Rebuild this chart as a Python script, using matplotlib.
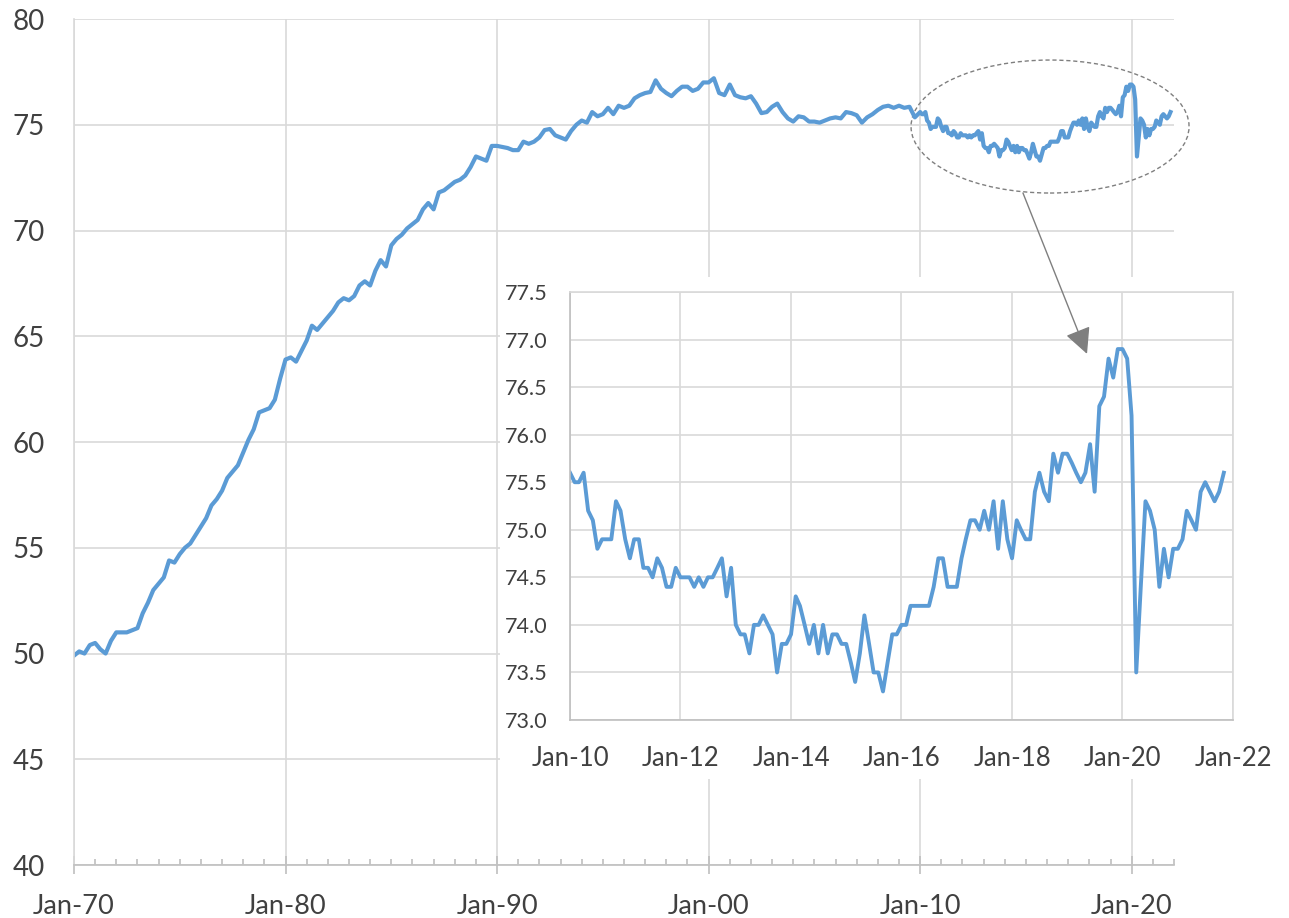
import pandas as pd
import matplotlib
matplotlib.use('Agg')
import matplotlib.pyplot as plt
import matplotlib.dates as mdates
from matplotlib.patches import Ellipse, Rectangle, FancyArrowPatch
from matplotlib.ticker import MultipleLocator, FormatStrFormatter

plt.rcParams['font.family'] = ['Lato', 'DejaVu Sans']

# Quarterly readings 1970-2009 (main chart)
main_start = '1970-01-01'
main_vals = [
    49.9, 50.1, 50.0, 50.4,
    50.5, 50.2, 50.0, 50.6,
    51.0, 51.0, 51.0, 51.1,
    51.2, 51.9, 52.4, 53.0,
    53.3, 53.6, 54.4, 54.3,
    54.7, 55.0, 55.2, 55.6,
    56.0, 56.4, 57.0, 57.3,
    57.7, 58.3, 58.6, 58.9,
    59.5, 60.1, 60.6, 61.4,
    61.5, 61.6, 62.0, 63.0,
    63.9, 64.0, 63.8, 64.3,
    64.8, 65.5, 65.3, 65.6,
    65.9, 66.2, 66.6, 66.8,
    66.7, 66.9, 67.4, 67.6,
    67.4, 68.1, 68.6, 68.3,
    69.3, 69.6, 69.8, 70.1,
    70.3, 70.5, 71.0, 71.3,
    71.0, 71.8, 71.9, 72.1,
    72.3, 72.4, 72.6, 73.0,
    73.5, 73.4, 73.3, 74.0,
    74.0, 73.95, 73.9, 73.8,
    73.8, 74.2, 74.1, 74.2,
    74.4, 74.75, 74.8, 74.5,
    74.4, 74.3, 74.7, 75.0,
    75.2, 75.1, 75.6, 75.4,
    75.5, 75.8, 75.5, 75.9,
    75.8, 75.9, 76.25, 76.4,
    76.5, 76.55, 77.1, 76.7,
    76.5, 76.35, 76.6, 76.8,
    76.8, 76.6, 76.7, 77.0,
    77.0, 77.2, 76.5, 76.4,
    76.9, 76.4, 76.3, 76.25,
    76.35, 76.0, 75.55, 75.6,
    75.85, 76.0, 75.6, 75.3,
    75.15, 75.4, 75.35, 75.15,
    75.15, 75.1, 75.2, 75.3,
    75.35, 75.3, 75.6, 75.55,
    75.45, 75.1, 75.35, 75.5,
    75.7, 75.85, 75.9, 75.8,
    75.9, 75.8, 75.85, 75.35,
]

# Monthly readings Jan 2010 - Nov 2021 (inset, also tail of main chart)
inset_start = '2010-01-01'
inset_vals = [
    75.6, 75.5, 75.5, 75.6, 75.2, 75.1, 74.8, 74.9, 74.9, 74.9, 75.3, 75.2,
    74.9, 74.7, 74.9, 74.9, 74.6, 74.6, 74.5, 74.7, 74.6, 74.4, 74.4, 74.6,
    74.5, 74.5, 74.5, 74.4, 74.5, 74.4, 74.5, 74.5, 74.6, 74.7, 74.3, 74.6,
    74.0, 73.9, 73.9, 73.7, 74.0, 74.0, 74.1, 74.0, 73.9, 73.5, 73.8, 73.8,
    73.9, 74.3, 74.2, 74.0, 73.8, 74.0, 73.7, 74.0, 73.7, 73.9, 73.9, 73.8,
    73.8, 73.6, 73.4, 73.7, 74.1, 73.8, 73.5, 73.5, 73.3, 73.6, 73.9, 73.9,
    74.0, 74.0, 74.2, 74.2, 74.2, 74.2, 74.2, 74.4, 74.7, 74.7, 74.4, 74.4,
    74.4, 74.7, 74.9, 75.1, 75.1, 75.0, 75.2, 75.0, 75.3, 74.8, 75.3, 74.9,
    74.7, 75.1, 75.0, 74.9, 74.9, 75.4, 75.6, 75.4, 75.3, 75.8, 75.6, 75.8,
    75.8, 75.7, 75.6, 75.5, 75.6, 75.9, 75.4, 76.3, 76.4, 76.8, 76.6, 76.9,
    76.9, 76.8, 76.2, 73.5, 74.4, 75.3, 75.2, 75.0, 74.4, 74.8, 74.5, 74.8,
    74.8, 74.9, 75.2, 75.1, 75.0, 75.4, 75.5, 75.4, 75.3, 75.4, 75.6,
]

main_yticks = [40, 45, 50, 55, 60, 65, 70, 75, 80]

main_dates = pd.date_range(main_start, periods=len(main_vals), freq='QS')
inset_dates = pd.date_range(inset_start, periods=len(inset_vals), freq='MS')
all_dates = list(main_dates) + list(inset_dates)
all_vals = main_vals + inset_vals

blue = '#5B9BD5'
grid_c = '#d9d9d9'
axis_c = '#bfbfbf'
text_c = '#404040'

fig = plt.figure(figsize=(12.89, 9.18), dpi=100)

# Main chart
ax = fig.add_axes([0.0574, 0.0577, 0.8534, 0.9216], zorder=0)
ax.plot(all_dates, all_vals, color=blue, lw=3.0, solid_joinstyle='round')
ax.set_xlim(pd.Timestamp('1970-01-01'), pd.Timestamp('2022-01-01'))
ax.set_ylim(40, 80)
ax.set_yticks(main_yticks)
ax.xaxis.set_major_locator(mdates.YearLocator(10))
ax.xaxis.set_minor_locator(mdates.YearLocator(1))
ax.xaxis.set_major_formatter(mdates.DateFormatter('%b-%y'))
ax.grid(True, which='major', color=grid_c, lw=1.2)
ax.set_axisbelow(True)
for s in ['top', 'right']:
    ax.spines[s].set_visible(False)
ax.spines['left'].set_color(grid_c)
ax.spines['bottom'].set_color(axis_c)
ax.spines['left'].set_linewidth(1.2)
ax.spines['bottom'].set_linewidth(1.2)
ax.tick_params(axis='y', length=0, pad=21, labelsize=20, labelcolor=text_c)
ax.tick_params(axis='x', which='major', direction='inout', length=13, width=1.2,
               color=axis_c, pad=14, labelsize=19.5, labelcolor=text_c)
ax.tick_params(axis='x', which='minor', direction='in', length=4, width=1.2, color=axis_c)

# Dashed ellipse around the recent period
ell = Ellipse((0.8873, 0.8729), 0.2527, 0.1572, transform=ax.transAxes, fill=False,
              edgecolor='#7f7f7f', lw=1, linestyle=(0, (3, 2)), clip_on=False)
ax.add_patch(ell)

# White panel behind the inset
fig.add_artist(Rectangle((0.3879, 0.1514), 0.62, 0.5468, transform=fig.transFigure,
                         facecolor='white', edgecolor='none', zorder=1))

# Inset chart
ax_in = fig.add_axes([0.4422, 0.2157, 0.5144, 0.4662], zorder=2)
ax_in.plot(inset_dates, inset_vals, color=blue, lw=2.8, solid_joinstyle='round')
ax_in.set_xlim(pd.Timestamp('2010-01-01'), pd.Timestamp('2022-01-01'))
ax_in.set_ylim(73, 77.5)
ax_in.yaxis.set_major_locator(MultipleLocator(0.5))
ax_in.yaxis.set_major_formatter(FormatStrFormatter('%.1f'))
ax_in.xaxis.set_major_locator(mdates.YearLocator(2))
ax_in.xaxis.set_major_formatter(mdates.DateFormatter('%b-%y'))
ax_in.grid(True, color=grid_c, lw=1.2)
ax_in.set_axisbelow(True)
for s in ['top', 'right']:
    ax_in.spines[s].set_color(grid_c)
    ax_in.spines[s].set_linewidth(1.2)
for s in ['left', 'bottom']:
    ax_in.spines[s].set_color(axis_c)
    ax_in.spines[s].set_linewidth(1.2)
ax_in.tick_params(axis='y', length=0, pad=16, labelsize=15.5, labelcolor=text_c)
ax_in.tick_params(axis='x', length=0, pad=19, labelsize=18.5, labelcolor=text_c)

# Arrow from ellipse to inset
arrow = FancyArrowPatch((0.7936, 0.7898), (0.8433, 0.6145), transform=fig.transFigure,
                        arrowstyle='-|>', mutation_scale=40, color='#7f7f7f', lw=1,
                        shrinkA=0, shrinkB=0, zorder=5)
fig.add_artist(arrow)

fig.savefig('out.png', dpi=100)
